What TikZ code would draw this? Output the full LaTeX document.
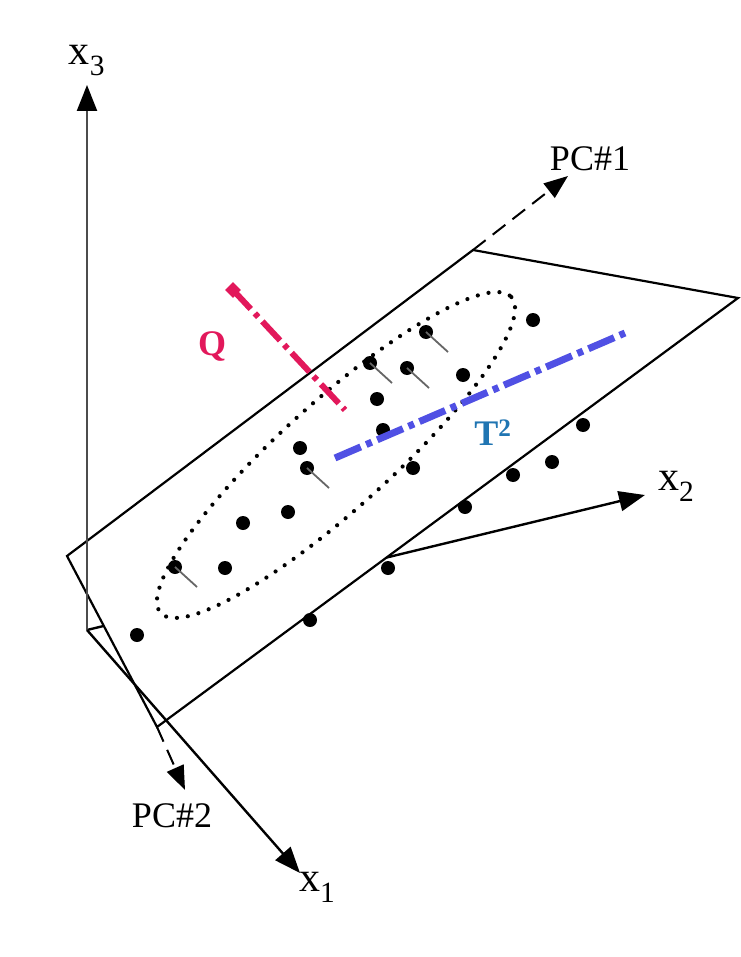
\documentclass[tikz,border=0pt]{standalone}
\usepackage{fontspec}
\setmainfont{Liberation Serif}
\usepackage{tikz}
\usetikzlibrary{arrows.meta,positioning}
\definecolor{PcRed}{HTML}{E2185B}
\definecolor{PcBlue}{HTML}{5050E4}
\definecolor{PcTeal}{HTML}{2075B2}
\tikzset{
  pcedge/.style={draw=black, line width=2.2pt, line join=miter},
  pcaxis/.style={-{Triangle[length=26pt,width=20pt,color=black]}, line width=2.4pt},
  pcpc/.style={-{Triangle[length=24pt,width=18pt]}, line width=2pt, dash pattern=on 16pt off 9pt},
  pcdot/.style={circle, fill=black, inner sep=0pt, minimum size=14pt},
  pctail/.style={draw=black!60, line width=1.8pt},
  pcring/.style={line width=4.2pt, line cap=round, dash pattern=on 0pt off 11pt},
  pclabel/.style={inner sep=1pt, font=\fontsize{36}{40}\selectfont},
  pcaxlabel/.style={inner sep=1pt, font=\fontsize{42}{46}\selectfont}
}

\begin{document}
\begin{tikzpicture}[x=1pt, y=-1pt]
  \useasboundingbox (0,0) rectangle (740,957);
  % axes origin and the plane corners
  \coordinate (O) at (87,630);
  \coordinate (left) at (67,556);
  \coordinate (top) at (473,250);
  \coordinate (right) at (738,298);
  \coordinate (bottom) at (157,727);
  \coordinate (x1tip) at (300,873);
  \coordinate (x2tip) at (645,495);
  \coordinate (x3tip) at (87,85);
  \coordinate (pc1tip) at (568,176);
  \coordinate (pc2tip) at (185,790);

  % x2 goes behind the plane
  \draw[pcaxis] (O) -- (x2tip);
  \filldraw[pcedge, fill=white] (left) -- (top) -- (right) -- (bottom) -- cycle;
  \draw[pcaxis, draw=black!70] (O) -- (x3tip);
  \draw[pcaxis] (O) -- (x1tip);
  \draw[pcpc] (top) -- (pc1tip);
  \draw[pcpc] (bottom) -- (pc2tip);

  % confidence ellipse
  \draw[pcring, rotate around={42:(336,455)}] (336,455) ellipse [x radius=236, y radius=54];

  % data points
  \foreach \x/\y [count=\i] in {533/320, 426/332, 370/363, 407/368, 463/375,
      377/399, 383/430, 300/448, 307/468, 413/468, 288/512, 243/523,
      225/568, 175/567, 137/635, 583/425, 552/462, 513/475, 465/507,
      388/568, 310/620}
    \node[pcdot] (p\i) at (\x,\y) {};
  \foreach \i in {2,3,4,9,14}
    \draw[pctail] (p\i.center) -- ++(22,20);

  % Q and T^2 distances
  \coordinate (qtop) at (233,290);
  \coordinate (qfoot) at (345,410);
  \coordinate (tstart) at (335,458);
  \coordinate (tend) at (625,333);
  \draw[PcRed, line width=6pt, dash pattern=on 26pt off 6pt on 5pt off 6pt] (qtop) -- (qfoot);
  \node[fill=PcRed, rotate=45, minimum size=11pt, inner sep=0pt] (qmark) at (qtop) {};
  \draw[PcBlue, line width=7pt, dash pattern=on 28pt off 6pt on 6pt off 6pt] (tstart) -- (tend);

  % labels
  \node[pcaxlabel, above=8pt of x3tip] (x3lab) {x\textsubscript{3}};
  \node[pcaxlabel, right=12pt of x2tip, yshift=9pt] (x2lab) {x\textsubscript{2}};
  \node[pcaxlabel, below right=-2pt and -2pt of x1tip] (x1lab) {x\textsubscript{1}};
  \node[pclabel, above=4pt of pc1tip, xshift=22pt] (pc1lab) {PC\#1};
  \node[pclabel, below=12pt of pc2tip, xshift=-13pt] (pc2lab) {PC\#2};
  \node[pclabel, text=PcRed, font=\fontsize{36}{40}\selectfont\bfseries] (qlab) at (212,346) {Q};
  \node[pclabel, text=PcTeal, font=\fontsize{36}{40}\selectfont\bfseries] (tlab) at (493,433) {T\textsuperscript{2}};
\end{tikzpicture}
\end{document}
